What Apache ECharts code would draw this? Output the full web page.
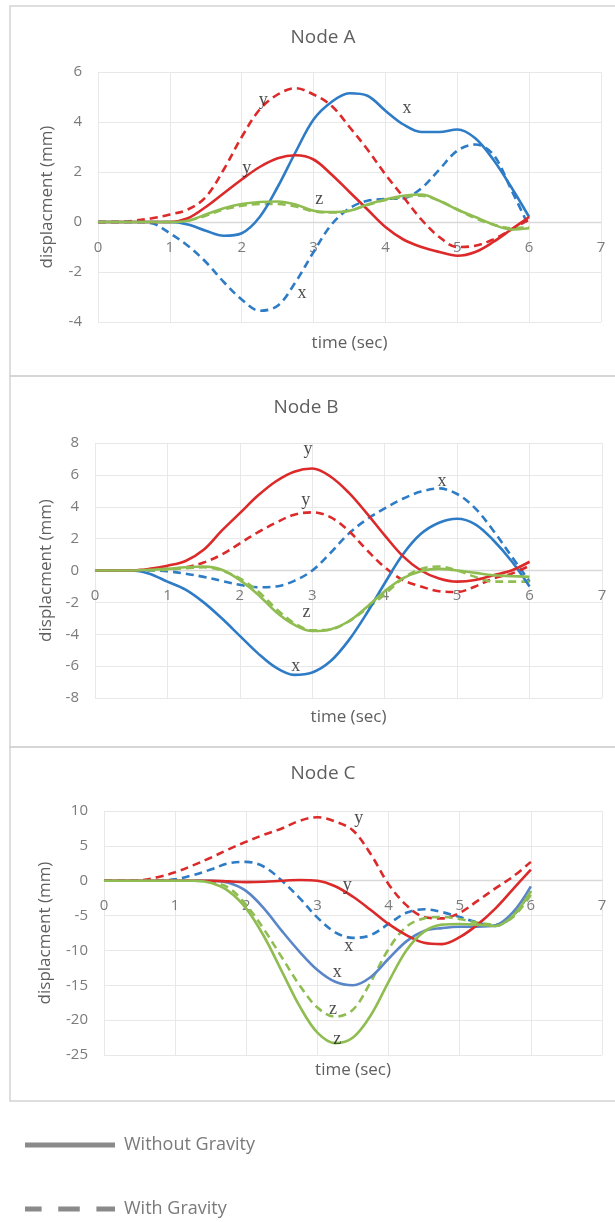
<!DOCTYPE html>
<html>
<head>
<meta charset="utf-8">
<script src="https://cdn.jsdelivr.net/npm/echarts@6/dist/echarts.min.js"></script>
<style>
  html, body { margin: 0; padding: 0; background: #ffffff; }
  #chart { width: 615px; height: 1222px; }
</style>
</head>
<body>
<div id="chart"></div>
<script>
// Sample times (sec)
const TIME = [0, 0.25, 0.5, 0.75, 1, 1.25, 1.5, 1.75, 2, 2.25, 2.5, 2.75, 3,
              3.25, 3.5, 3.75, 4, 4.25, 4.5, 4.75, 5, 5.25, 5.5, 5.75, 6];

// Node A displacements (mm)
const A_X_NOG = [0,0,0,0,0,-0.1,-0.35,-0.55,-0.45,0.2,1.4,2.8,4.1,4.8,5.15,5.05,4.45,3.9,3.6,3.6,3.7,3.35,2.5,1.4,0.2];
const A_X_G   = [0,0,0,-0.05,-0.45,-0.95,-1.6,-2.4,-3.1,-3.55,-3.35,-2.4,-1.2,-0.1,0.55,0.85,0.92,0.95,1.35,2.1,2.85,3.1,2.7,1.3,-0.2];
const A_Y_NOG = [0,0,0,0,0,0.15,0.6,1.15,1.7,2.2,2.55,2.67,2.5,1.9,1.2,0.5,-0.2,-0.7,-1.0,-1.2,-1.35,-1.2,-0.8,-0.3,0.2];
const A_Y_G   = [0,0,0.05,0.15,0.3,0.5,1.0,2.1,3.4,4.5,5.1,5.35,5.1,4.65,3.8,2.9,1.9,1.0,0.1,-0.6,-1.0,-0.95,-0.7,-0.3,0.1];
const A_Z_NOG = [0,0,0,0,0,0.05,0.3,0.55,0.72,0.8,0.82,0.7,0.45,0.4,0.45,0.7,0.9,1.05,1.1,0.85,0.5,0.2,-0.1,-0.3,-0.25];
const A_Z_G   = [0,0,0,0,0,0.05,0.25,0.5,0.65,0.72,0.72,0.62,0.42,0.38,0.45,0.68,0.88,1.0,1.05,0.85,0.5,0.15,-0.1,-0.25,-0.2];

// Node B displacements (mm)
const B_X_NOG = [0,0,0,-0.2,-0.7,-1.2,-2.0,-3.0,-4.1,-5.2,-6.1,-6.55,-6.4,-5.7,-4.4,-2.7,-0.8,1.0,2.3,3.0,3.25,2.9,1.9,0.6,-1.0];
const B_X_G   = [0,0,0,0,-0.05,-0.2,-0.4,-0.65,-0.9,-1.05,-1.0,-0.65,0.0,1.1,2.3,3.2,3.9,4.5,4.95,5.15,4.8,3.9,2.5,0.9,-0.7];
const B_Y_NOG = [0,0,0,0.1,0.3,0.6,1.3,2.5,3.6,4.7,5.6,6.2,6.4,5.9,4.9,3.6,2.2,0.9,0.0,-0.5,-0.7,-0.6,-0.3,0.0,0.55];
const B_Y_G   = [0,0,0,0.05,0.1,0.2,0.5,1.0,1.7,2.4,3.0,3.5,3.65,3.35,2.5,1.3,0.2,-0.6,-1.0,-1.3,-1.35,-1.0,-0.5,-0.2,0.3];
const B_Z_NOG = [0,0,0,0.05,0.1,0.2,0.25,0.05,-0.6,-1.5,-2.6,-3.4,-3.8,-3.7,-3.2,-2.3,-1.3,-0.5,-0.05,0.1,0.0,-0.15,-0.3,-0.35,-0.4];
const B_Z_G   = [0,0,0,0.02,0.05,0.15,0.2,0.0,-0.5,-1.3,-2.4,-3.3,-3.75,-3.7,-3.2,-2.4,-1.5,-0.5,0.1,0.25,0.0,-0.4,-0.7,-0.7,-0.7];

// Node C displacements (mm)
const C_X_NOG = [0,0,0,0,0,0,0,-0.3,-1.5,-4.0,-7.2,-10.2,-12.8,-14.5,-15.0,-13.8,-11.2,-8.7,-7.2,-6.8,-6.6,-6.6,-6.4,-4.5,-0.8];
const C_X_G   = [0,0,0,0.05,0.2,0.8,1.6,2.5,2.7,2.0,0.0,-2.5,-5.3,-7.4,-8.2,-7.8,-6.2,-4.6,-4.1,-4.5,-5.2,-6.0,-6.5,-5.0,-1.5];
const C_Y_NOG = [0,0,0,0,0,0,0,-0.1,-0.2,-0.15,0.0,0.1,0.0,-0.8,-2.3,-4.2,-6.2,-7.8,-8.9,-9.1,-8.1,-6.3,-4.0,-1.2,1.6];
const C_Y_G   = [0,0,0.05,0.5,1.2,2.2,3.3,4.5,5.6,6.6,7.5,8.6,9.1,8.5,7.2,3.8,-0.5,-3.5,-5.2,-5.4,-4.6,-2.9,-1.1,0.6,2.7];
const C_Z_NOG = [0,0,0,0,0,0,-0.3,-1.5,-4.0,-8.0,-13.0,-18.0,-21.8,-23.3,-22.5,-19.3,-14.5,-10.0,-7.3,-6.3,-6.2,-6.3,-6.5,-5.0,-1.5];
const C_Z_G   = [0,0,0,0,0,0,-0.2,-1.0,-3.5,-7.0,-11.0,-15.0,-18.2,-19.5,-18.5,-14.5,-9.8,-6.6,-5.4,-5.2,-5.5,-6.0,-6.3,-5.2,-2.0];

// Curve annotations: [time, displacement, text]
const A_NOTES = [[2.3, 4.85, 'y'], [2.07, 2.15, 'y'], [4.3, 4.55, 'x'], [3.08, 0.9, 'z'], [2.84, -2.85, 'x']];
const B_NOTES = [[2.94, 7.6, 'y'], [2.91, 4.4, 'y'], [4.79, 5.6, 'x'], [2.92, -2.6, 'z'], [2.77, -6.0, 'x']];
const C_NOTES = [[3.58, 8.9, 'y'], [3.42, -0.6, 'y'], [3.44, -9.4, 'x'], [3.28, -13.2, 'x'], [3.22, -18.4, 'z'], [3.28, -22.8, 'z']];

// Panel titles and axis tick settings
const NODE_TITLES = ['Node A', 'Node B', 'Node C'];
const Y_RANGES = [[-4, 6, 2], [-8, 8, 2], [-25, 10, 5]];
const X_RANGE = [0, 7, 1];
const LEGEND_NAMES = ['Without Gravity', 'With Gravity'];

const BLUE = '#2e7bc6', RED = '#dc2a2a', GREEN = '#8fbd52', BLUE_C = '#5a86c8';
const TICK_COLOR = '#7b7b7b', TITLE_COLOR = '#5f5f5f';
const SANS = 'Open Sans';

const panels = [
  { data: [[A_X_NOG, BLUE, 0], [A_X_G, BLUE, 1], [A_Y_NOG, RED, 0], [A_Y_G, RED, 1], [A_Z_NOG, GREEN, 0], [A_Z_G, GREEN, 1]],
    notes: A_NOTES, grid: { left: 98, top: 72, width: 503, height: 250 }, nameGap: 113,
    title: { x: 318, y: 23 }, yNameGap: 42 },
  { data: [[B_X_NOG, BLUE, 0], [B_X_G, BLUE, 1], [B_Y_NOG, RED, 0], [B_Y_G, RED, 1], [B_Z_NOG, GREEN, 0], [B_Z_G, GREEN, 1]],
    notes: B_NOTES, grid: { left: 95, top: 443, width: 507, height: 255 }, nameGap: 138,
    title: { x: 301, y: 393 }, yNameGap: 40 },
  { data: [[C_X_NOG, BLUE_C, 0], [C_X_G, BLUE, 1], [C_Y_NOG, RED, 0], [C_Y_G, RED, 1], [C_Z_NOG, GREEN, 0], [C_Z_G, GREEN, 1]],
    notes: C_NOTES, grid: { left: 104, top: 811, width: 498, height: 244 }, nameGap: 181,
    title: { x: 318, y: 759 }, yNameGap: 50 }
];

const grids = [], xAxes = [], yAxes = [], series = [], titles = [];

panels.forEach((p, i) => {
  grids.push(p.grid);
  titles.push({
    text: NODE_TITLES[i], left: p.title.x, top: p.title.y, textAlign: 'center',
    textStyle: { fontFamily: SANS, fontSize: 19, fontWeight: 'normal', color: TITLE_COLOR }
  });
  const yr = Y_RANGES[i];
  // lift the time axis from the plot bottom up to the zero line
  const zeroLift = p.grid.height * (0 - yr[0]) / (yr[1] - yr[0]);
  xAxes.push({
    gridIndex: i, type: 'value', min: X_RANGE[0], max: X_RANGE[1], interval: X_RANGE[2],
    position: 'bottom', offset: -zeroLift,
    name: 'time (sec)', nameLocation: 'middle', nameGap: p.nameGap,
    nameTextStyle: { fontFamily: SANS, fontSize: 17, color: TITLE_COLOR },
    axisLine: { onZero: false, lineStyle: { color: '#d9d9d9', width: 1.3 } },
    axisTick: { show: false },
    axisLabel: { fontFamily: SANS, fontSize: 15, color: TICK_COLOR, margin: 18 },
    splitLine: { show: true, lineStyle: { color: '#e8e8e8', width: 1 } }
  });
  yAxes.push({
    gridIndex: i, type: 'value', min: yr[0], max: yr[1], interval: yr[2],
    name: 'displacment (mm)', nameLocation: 'middle', nameGap: p.yNameGap,
    nameTextStyle: { fontFamily: SANS, fontSize: 17, color: TITLE_COLOR },
    axisLine: { show: false }, axisTick: { show: false },
    axisLabel: { fontFamily: SANS, fontSize: 15, color: TICK_COLOR, margin: 16 },
    splitLine: { show: true, lineStyle: { color: '#e8e8e8', width: 1 } }
  });
  p.data.forEach(([vals, color, dashed]) => {
    series.push({
      type: 'line', name: LEGEND_NAMES[dashed], xAxisIndex: i, yAxisIndex: i,
      data: TIME.map((t, k) => [t, vals[k]]),
      smooth: 0.35, showSymbol: false, symbol: 'none', silent: true,
      lineStyle: { color: color, width: 2.6, type: dashed ? [8, 5] : 'solid' },
      itemStyle: { color: color }, z: dashed ? 3 : 4
    });
  });
  series.push({
    type: 'scatter', xAxisIndex: i, yAxisIndex: i, silent: true,
    data: p.notes, symbolSize: 1, itemStyle: { color: 'rgba(0,0,0,0)' }, z: 6,
    label: {
      show: true, position: 'inside', formatter: (d) => d.data[2],
      fontFamily: 'Liberation Serif', fontSize: 18, color: '#1e1e1e'
    }
  });
});

// Legend: one entry per line style, stacked
const legendBase = {
  orient: 'vertical', left: 20, itemWidth: 90, itemHeight: 5, selectedMode: false,
  textStyle: { fontFamily: SANS, fontSize: 18, color: '#7a7a7a', padding: [0, 0, 0, 4] }
};
const legends = [
  Object.assign({}, legendBase, { top: 1131,
    data: [{ name: LEGEND_NAMES[0], icon: 'rect', itemStyle: { color: '#8a8a8a' } }] }),
  Object.assign({}, legendBase, { top: 1195,
    data: [{ name: LEGEND_NAMES[1], icon: 'path://M0,0h17v5h-17z M34,0h22v5h-22z M73,0h19v5h-19z', itemStyle: { color: '#8a8a8a' } }] })
];

const chart = echarts.init(document.getElementById('chart'), null, { renderer: 'canvas' });
chart.setOption({
  animation: false,
  backgroundColor: '#ffffff',
  title: titles,
  grid: grids,
  xAxis: xAxes,
  yAxis: yAxes,
  series: series,
  legend: legends,
  graphic: [
    { type: 'rect', shape: { x: 10, y: 6, width: 620, height: 370 }, style: { fill: 'none', stroke: '#d4d4d4', lineWidth: 1.5 }, z: -1 },
    { type: 'rect', shape: { x: 10, y: 376, width: 620, height: 371 }, style: { fill: 'none', stroke: '#d4d4d4', lineWidth: 1.5 }, z: -1 },
    { type: 'rect', shape: { x: 10, y: 747, width: 620, height: 354 }, style: { fill: 'none', stroke: '#d4d4d4', lineWidth: 1.5 }, z: -1 }
  ]
});
</script>
</body>
</html>
